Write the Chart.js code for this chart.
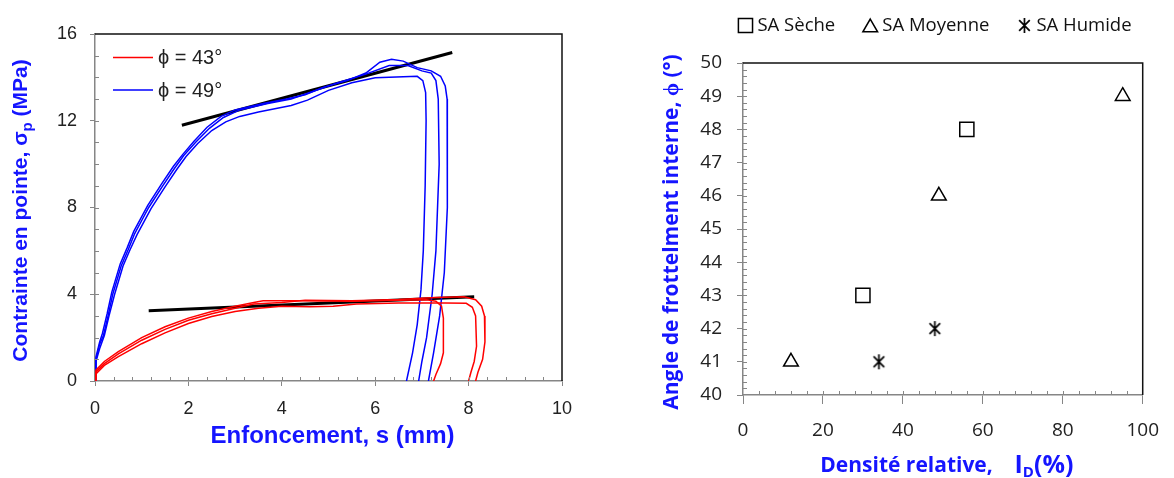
<!DOCTYPE html>
<html>
<head>
<meta charset="utf-8">
<script src="https://cdn.jsdelivr.net/npm/chart.js@4.4.1/dist/chart.umd.min.js"></script>
<style>
  body { margin: 0; background: #fff; }
  #left { position: absolute; left: 0; top: 0; }
  #right { position: absolute; left: 600px; top: 0; }
</style>
</head>
<body>
<canvas id="left" width="600" height="478"></canvas>
<canvas id="right" width="574" height="478"></canvas>
<script>
// left panel: penetration curves [s (mm), sigma_p (MPa)]
const red1 = [[0,0],[0.02,0.5],[0.2,0.9],[0.5,1.35],[1,2.0],[1.5,2.5],[2,2.9],[2.5,3.2],[3,3.45],[3.4,3.62],[3.6,3.7],[4.5,3.7],[5.5,3.68],[6.5,3.72],[7.1,3.75],[7.3,3.68],[7.42,3.45],[7.46,2.9],[7.46,1.3],[7.4,0.8],[7.3,0.3],[7.25,0]];
const red2 = [[0,0],[0.03,0.35],[0.2,0.72],[0.5,1.12],[1,1.72],[1.5,2.22],[2,2.65],[2.5,2.97],[3,3.2],[3.5,3.35],[4,3.45],[4.6,3.42],[5.1,3.45],[5.6,3.55],[6.5,3.6],[7.5,3.6],[7.95,3.58],[8.08,3.4],[8.15,3.0],[8.17,1.6],[8.12,0.9],[8.05,0.4],[8.0,0]];
const red3 = [[0,0],[0.02,0.42],[0.2,0.8],[0.5,1.25],[1,1.88],[1.5,2.38],[2,2.8],[2.5,3.1],[3,3.35],[3.4,3.55],[4,3.62],[4.5,3.72],[5.5,3.7],[6.5,3.76],[7.3,3.85],[7.9,3.88],[8.15,3.75],[8.28,3.45],[8.34,3.0],[8.35,1.8],[8.3,1.0],[8.2,0.4],[8.15,0]];
const blue1 = [[0,0],[0.02,0.9],[0.1,1.5],[0.2,2.1],[0.3,3.0],[0.42,4.0],[0.6,5.3],[0.75,6.05],[0.9,6.75],[1.05,7.35],[1.2,7.95],[1.5,8.95],[1.75,9.75],[1.95,10.35],[2.2,10.95],[2.5,11.55],[2.8,11.95],[3.1,12.2],[3.5,12.4],[4.2,12.7],[4.55,12.95],[5.0,13.4],[5.5,13.75],[6.0,13.98],[6.9,14.05],[7.02,13.85],[7.08,13.3],[7.09,12],[7.07,9],[7.03,6],[6.98,4.2],[6.9,2.6],[6.8,1.3],[6.67,0]];
const blue2 = [[0,0],[0.02,1.0],[0.1,1.7],[0.18,2.1],[0.28,3.0],[0.38,4.0],[0.56,5.3],[0.71,6.05],[0.85,6.8],[1.0,7.4],[1.15,8.0],[1.45,9.0],[1.7,9.8],[1.9,10.4],[2.15,11.0],[2.45,11.65],[2.75,12.15],[3.1,12.5],[3.7,12.8],[4.2,13.0],[4.6,13.3],[5.2,13.75],[5.8,14.15],[6.3,14.55],[6.7,14.55],[7.0,14.3],[7.2,14.2],[7.3,13.85],[7.35,13.0],[7.37,10],[7.3,6],[7.22,4],[7.1,2],[7.0,0.9],[6.93,0]];
const blue3 = [[0,0],[0.02,1.1],[0.1,1.8],[0.16,2.2],[0.26,3.1],[0.36,4.1],[0.54,5.4],[0.69,6.15],[0.83,6.9],[0.98,7.5],[1.13,8.1],[1.43,9.1],[1.68,9.9],[1.88,10.45],[2.12,11.05],[2.4,11.7],[2.7,12.2],[3.0,12.5],[3.6,12.8],[4.1,13.0],[4.5,13.2],[4.9,13.55],[5.4,13.85],[5.8,14.2],[6.1,14.7],[6.35,14.83],[6.6,14.75],[6.9,14.45],[7.2,14.3],[7.4,14.05],[7.5,13.6],[7.54,13.0],[7.55,11],[7.54,8],[7.48,5],[7.38,3],[7.25,1.3],[7.14,0]];
const trend49 = [[1.86,11.79],[7.65,15.15]];
const trend43 = [[1.15,3.24],[8.12,3.89]];
const leftLegend = ['\u03d5 = 43\u00b0', '\u03d5 = 49\u00b0'];

// right panel: relative density vs friction angle
const secheX = [30, 56];
const secheY = [43, 48];
const moyenneX = [12, 49, 95];
const moyenneY = [41, 46, 49];
const humideX = [34, 48];
const humideY = [41, 42];
const rightLegend = ['SA S\u00e8che', 'SA Moyenne', 'SA Humide'];

const AXIS = '#868686';
const TITLE = '#1515ff';

function pts(arr) { return arr.map(p => ({ x: p[0], y: p[1] })); }
function zip(xs, ys) { return xs.map((x, i) => ({ x: x, y: ys[i] })); }

function curve(data, color, width) {
    return { data: pts(data), borderColor: color, borderWidth: width, showLine: true, pointRadius: 0, fill: false, tension: 0 };
}

function asterisk(size) {
    const c = document.createElement('canvas');
    c.width = c.height = size;
    const g = c.getContext('2d');
    const m = size / 2, r = size / 2 - 1;
    g.strokeStyle = '#000';
    g.lineWidth = 1.7;
    g.beginPath();
    g.moveTo(m, m - r); g.lineTo(m, m + r);
    const a = 45 * Math.PI / 180;
    g.moveTo(m - r * Math.sin(a), m - r * Math.cos(a)); g.lineTo(m + r * Math.sin(a), m + r * Math.cos(a));
    g.moveTo(m + r * Math.sin(a), m - r * Math.cos(a)); g.lineTo(m - r * Math.sin(a), m + r * Math.cos(a));
    g.stroke();
    return c;
}
const star = asterisk(17);

// text with optional subscripts, centred on (cx, cy)
function drawRich(ctx, segs, cx, cy, rot, size, family) {
    const fontOf = s => 'bold ' + (s.sub ? Math.round(size * 0.7) : (s.size || size)) + 'px ' + family;
    let total = 0;
    segs.forEach(s => { ctx.font = fontOf(s); total += ctx.measureText(s.t).width; });
    ctx.save();
    ctx.translate(cx, cy);
    ctx.rotate(rot);
    ctx.fillStyle = TITLE;
    ctx.textBaseline = 'middle';
    ctx.textAlign = 'left';
    let x = -total / 2;
    segs.forEach(s => {
        ctx.font = fontOf(s);
        ctx.fillText(s.t, x, s.sub ? size * 0.32 : 0);
        x += ctx.measureText(s.t).width;
    });
    ctx.restore();
}

const frame = {
    id: 'frame',
    afterDraw(chart, args, o) {
        const { ctx, chartArea: a, scales: { x, y } } = chart;
        ctx.save();
        ctx.strokeStyle = AXIS;
        ctx.lineWidth = 1;
        ctx.beginPath();
        for (let v = x.min + o.minorX; v < x.max - 1e-6; v += o.minorX) {
            const px = Math.round(x.getPixelForValue(v)) + 0.5;
            ctx.moveTo(px, a.bottom); ctx.lineTo(px, a.bottom - 4);
        }
        for (let v = y.min + o.minorY; v < y.max - 1e-6; v += o.minorY) {
            const py = Math.round(y.getPixelForValue(v)) + 0.5;
            ctx.moveTo(a.left, py); ctx.lineTo(a.left + 4, py);
        }
        ctx.stroke();
        ctx.strokeStyle = '#111';
        ctx.lineWidth = 1.5;
        ctx.beginPath();
        ctx.moveTo(a.left, a.top); ctx.lineTo(a.right, a.top); ctx.lineTo(a.right, a.bottom);
        ctx.stroke();
        const cx = (a.left + a.right) / 2, cy = (a.top + a.bottom) / 2;
        drawRich(ctx, o.xTitle, cx + o.xShift, o.xTitleY, 0, o.xSize, o.family);
        drawRich(ctx, o.yTitle, o.yTitleX, cy + o.yShift, -Math.PI / 2, o.ySize, o.family);
        ctx.restore();
    }
};

const lineLegend = {
    id: 'lineLegend',
    afterDraw(chart) {
        const ctx = chart.ctx;
        ctx.save();
        ctx.font = '20px "Liberation Sans", Arial';
        ctx.textBaseline = 'middle';
        ctx.fillStyle = '#222';
        [['red', 57.5], ['#0000ff', 90]].forEach((it, i) => {
            ctx.strokeStyle = it[0];
            ctx.lineWidth = 1.5;
            ctx.beginPath(); ctx.moveTo(113, it[1]); ctx.lineTo(153, it[1]); ctx.stroke();
            ctx.fillText(leftLegend[i], 158, it[1] + 1);
        });
        ctx.restore();
    }
};

const markerLegend = {
    id: 'markerLegend',
    afterDraw(chart) {
        const ctx = chart.ctx;
        ctx.save();
        ctx.font = '18.5px "Open Sans"';
        ctx.textBaseline = 'middle';
        ctx.fillStyle = '#111';
        const sets = chart.data.datasets;
        const widths = rightLegend.map(t => ctx.measureText(t).width);
        const total = widths.reduce((s, w) => s + w + 19, 0) + 28 * (widths.length - 1);
        let x = 335 - total / 2;
        const yc = 25.5;
        sets.forEach((ds, i) => {
            const opts = { pointStyle: ds.pointStyle, radius: ds.pointRadius, rotation: 0, borderWidth: ds.borderWidth };
            ctx.strokeStyle = '#000';
            ctx.fillStyle = '#fff';
            ctx.lineWidth = ds.borderWidth;
            Chart.helpers.drawPoint(ctx, opts, x + 7, yc + (ds.pointStyle === 'triangle' ? 2 : 0));
            ctx.fillStyle = '#111';
            ctx.fillText(rightLegend[i], x + 19, yc);
            x += 19 + widths[i] + 28;
        });
        ctx.restore();
    }
};

const leftChart = new Chart(document.getElementById('left'), {
    type: 'scatter',
    data: {
        datasets: [
            curve(red1, '#ff0000', 1.5),
            curve(red2, '#ff0000', 1.5),
            curve(red3, '#ff0000', 1.5),
            curve(blue1, '#0000ff', 1.5),
            curve(blue2, '#0000ff', 1.5),
            curve(blue3, '#0000ff', 1.5),
            curve(trend49, '#000', 3),
            curve(trend43, '#000', 3)
        ]
    },
    options: {
        responsive: false,
        animation: false,
        layout: { padding: { top: 34, right: 38, left: 0, bottom: 0 } },
        plugins: {
            legend: { display: false },
            tooltip: { enabled: false },
            frame: {
                minorX: 0.4, minorY: 1,
                family: '"Liberation Sans", Arial', xSize: 24, ySize: 21,
                xTitle: [{ t: 'Enfoncement, s (mm)' }], xTitleY: 436, xShift: 4,
                yTitle: [{ t: 'Contrainte en pointe, \u03c3' }, { t: 'p', sub: true }, { t: ' (MPa)' }], yTitleX: 21, yShift: 3
            }
        },
        scales: {
            x: {
                min: 0, max: 10,
                ticks: { stepSize: 2, color: '#222', padding: 12, font: { size: 18, family: '"Liberation Sans", Arial' } },
                grid: { drawOnChartArea: false, tickLength: 5, color: AXIS },
                border: { color: AXIS, width: 1.5 },
                afterFit: s => { s.height = 97; }
            },
            y: {
                min: 0, max: 16,
                ticks: { stepSize: 4, color: '#222', padding: 13, font: { size: 18, family: '"Liberation Sans", Arial' } },
                grid: { drawOnChartArea: false, tickLength: 5, color: AXIS },
                border: { color: AXIS, width: 1.5 },
                afterFit: s => { s.width = 95; }
            }
        }
    },
    plugins: [frame, lineLegend]
});

const rightChart = new Chart(document.getElementById('right'), {
    type: 'scatter',
    data: {
        datasets: [
            { label: rightLegend[0], data: zip(secheX, secheY), pointStyle: 'rect', pointRadius: 10, borderColor: '#000', backgroundColor: 'rgba(255,255,255,0)', borderWidth: 1.5 },
            { label: rightLegend[1], data: zip(moyenneX, moyenneY), pointStyle: 'triangle', pointRadius: 8.5, borderColor: '#000', backgroundColor: 'rgba(255,255,255,0)', borderWidth: 1.5 },
            { label: rightLegend[2], data: zip(humideX, humideY), pointStyle: star, pointRadius: 7, borderColor: '#000', backgroundColor: '#000', borderWidth: 1.5 }
        ]
    },
    options: {
        responsive: false,
        animation: false,
        layout: { padding: { top: 63, right: 18, left: 0, bottom: 0 } },
        plugins: {
            legend: { display: false },
            tooltip: { enabled: false },
            frame: {
                minorX: 4, minorY: 0.2,
                family: '"Open Sans"', xSize: 21, ySize: 21,
                xTitle: [{ t: 'Densit\u00e9 relative,    ' }, { t: 'I', size: 25 }, { t: 'D', sub: true }, { t: '(%)', size: 25 }], xTitleY: 466, xShift: 4,
                yTitle: [{ t: 'Angle de frottelment interne, \u03d5 (\u00b0)' }], yTitleX: 72, yShift: 3
            }
        },
        scales: {
            x: {
                min: 0, max: 100,
                ticks: { stepSize: 20, color: '#222', padding: 15, font: { size: 19, family: '"Open Sans"' } },
                grid: { drawOnChartArea: false, tickLength: 9, color: AXIS },
                border: { color: AXIS, width: 1.5 },
                afterFit: s => { s.height = 83; }
            },
            y: {
                min: 40, max: 50,
                ticks: { stepSize: 1, color: '#222', padding: 15, font: { size: 19, family: '"Open Sans"' } },
                grid: { drawOnChartArea: false, tickLength: 6, color: AXIS },
                border: { color: AXIS, width: 1.5 },
                afterFit: s => { s.width = 143; }
            }
        }
    },
    plugins: [frame, markerLegend]
});
</script>
</body>
</html>
